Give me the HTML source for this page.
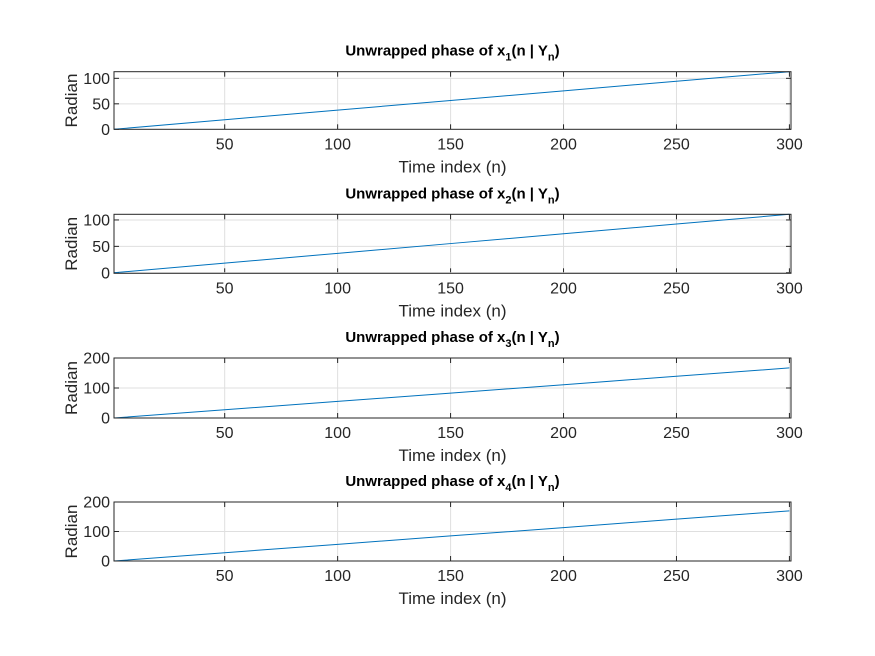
<!DOCTYPE html>
<html><head><meta charset="utf-8"><style>
body{margin:0;background:#fff;}
svg{display:block;font-family:"Liberation Sans",Arial,sans-serif;}
</style></head><body>
<svg id="fig" width="875" height="656"></svg>
<script>
const xTicks=[50,100,150,200,250,300];
const nIdx=[1,50,100,150,200,250,300];
const phase1=[0,18.7,37.6,56.5,75.4,94.3,113];
const phase2=[0,18.3,36.8,55.3,73.8,92.3,110.7];
const phase3=[0,27.5,55.3,83,111,139,167];
const phase4=[0,28,56.5,85,113,142,170];
const yTicks1=[0,50,100];
const yTicks2=[0,50,100];
const yTicks3=[0,100,200];
const yTicks4=[0,100,200];
const subs=[
 {n:1,top:71.7,bot:129.3,ymin:0,ymax:113,vals:phase1,yt:yTicks1},
 {n:2,top:214.3,bot:273.3,ymin:-1,ymax:110.7,vals:phase2,yt:yTicks2},
 {n:3,top:358,bot:418,ymin:0,ymax:200,vals:phase3,yt:yTicks3},
 {n:4,top:502,bot:561,ymin:0,ymax:200,vals:phase4,yt:yTicks4}
];
const NS="http://www.w3.org/2000/svg";
const svg=document.getElementById('fig');
const L=114,R=791,xmin=1,xmax=300.7;
const X=v=>L+(v-xmin)/(xmax-xmin)*(R-L);
function mk(t,a,p){const e=document.createElementNS(NS,t);for(const k in a)e.setAttribute(k,a[k]);(p||svg).appendChild(e);return e;}
subs.forEach(s=>{
 const g=mk('g',{});
 
 
 const Y=v=>s.bot-(v-s.ymin)/(s.ymax-s.ymin)*(s.bot-s.top);
 mk('rect',{x:L,y:s.top,width:R-L,height:s.bot-s.top,fill:'#fff'},g);
 xTicks.forEach(t=>{
  mk('line',{x1:X(t),x2:X(t),y1:s.top,y2:s.bot,stroke:'#dfdfdf','stroke-width':1},g);
  mk('line',{x1:X(t),x2:X(t),y1:s.bot,y2:s.bot-5,stroke:'#262626'},g);
  mk('line',{x1:X(t),x2:X(t),y1:s.top,y2:s.top+5,stroke:'#262626'},g);
  const tx=mk('text',{x:X(t),y:s.bot+20,'text-anchor':'middle','font-size':16,fill:'#262626'},g);
  tx.textContent=t;
  
  
 });
 s.yt.forEach(t=>{
  if(t>s.ymin&&t<s.ymax) mk('line',{x1:L,x2:R,y1:Y(t),y2:Y(t),stroke:'#dfdfdf'},g);
  mk('line',{x1:L,x2:L+5,y1:Y(t),y2:Y(t),stroke:'#262626'},g);
  mk('line',{x1:R,x2:R-5,y1:Y(t),y2:Y(t),stroke:'#262626'},g);
  const ty=mk('text',{x:L-4,y:Y(t)+5.5,'text-anchor':'end','font-size':16,fill:'#262626'},g);
  ty.textContent=t;
  
  
 });
 const pts=nIdx.map((n,i)=>X(n)+','+Y(s.vals[i])).join(' ');
 const pl=mk('polyline',{points:pts,fill:'none',stroke:'#0072bd','stroke-width':1},g);
 
 
 mk('rect',{x:L,y:s.top,width:R-L,height:s.bot-s.top,fill:'none',stroke:'#262626','stroke-width':1},g);
 const ti=mk('text',{x:(L+R)/2,y:s.top-16,'text-anchor':'middle','font-size':15,'font-weight':'bold',fill:'#000'},g);
 ti.innerHTML='Unwrapped phase of x<tspan font-size="11" dy="5">'+s.n+'</tspan><tspan dy="-5">(n | Y</tspan><tspan font-size="11" dy="5">n</tspan><tspan dy="-5">)</tspan>';
 
 
 const xl=mk('text',{x:(L+R)/2,y:s.bot+43,'text-anchor':'middle','font-size':17,fill:'#262626'},g);
 xl.textContent='Time index (n)';
 
 
 const yc=(s.top+s.bot)/2;
 const yl=mk('text',{x:77,y:yc,'text-anchor':'middle','font-size':17,fill:'#262626',transform:'rotate(-90 77 '+yc+')'},g);
 yl.textContent='Radian';
 
 
});
</script>
</body></html>
